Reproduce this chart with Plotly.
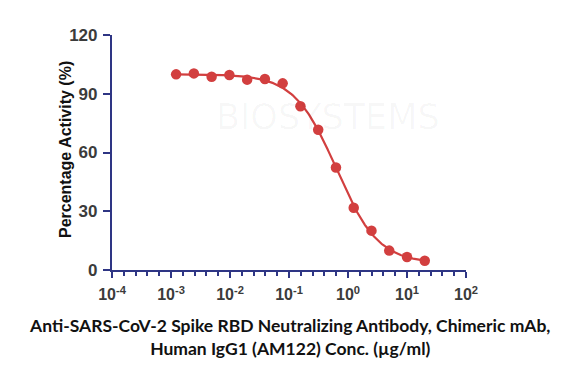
import numpy as np
import plotly.graph_objects as go

# ---- data ----
conc = [20 / 2 ** k for k in range(14, -1, -1)]  # 2-fold dilution series, µg/ml
activity = [99.9, 100.4, 98.7, 99.6, 97.2, 97.5, 95.3, 83.6, 71.6, 52.3, 31.8, 20.1, 9.9, 6.6, 4.7]
y_ticks = [0, 30, 60, 90, 120]
x_decades = [-4, -3, -2, -1, 0, 1, 2]
x_tick_labels = ["10<sup>-4</sup>", "10<sup>-3</sup>", "10<sup>-2</sup>", "10<sup>-1</sup>",
                 "10<sup>0</sup>", "10<sup>1</sup>", "10<sup>2</sup>"]
x_title = "Anti-SARS-CoV-2 Spike RBD Neutralizing Antibody, Chimeric mAb,<br>Human IgG1 (AM122) Conc. (µg/ml)"
y_title = "Percentage Activity (%)"

# ---- 4PL fit of the read values (for the fitted curve) ----
lx = np.log10(np.array(conc))
yv = np.array(activity)

def model(p, x):
    b, t, c, h = p
    return b + (t - b) / (1 + 10 ** ((x - c) * h))

p = np.array([3.0, 100.0, np.log10(0.65), 1.3])
lam = 1e-3
for _ in range(200):
    r = yv - model(p, lx)
    J = np.zeros((len(lx), 4))
    for j in range(4):
        dp = np.zeros(4); dp[j] = 1e-6
        J[:, j] = (model(p + dp, lx) - model(p - dp, lx)) / 2e-6
    A = J.T @ J
    step = np.linalg.solve(A + lam * np.diag(np.diag(A)), J.T @ r)
    pn = p + step
    if np.sum((yv - model(pn, lx)) ** 2) < np.sum(r ** 2):
        p = pn; lam *= 0.5
    else:
        lam *= 4
fx = np.linspace(lx.min(), lx.max(), 300)
fy = model(p, fx)

# minor ticks: 4 evenly spaced (in log space) between decades, as in the reference
minor_vals = [10 ** (d + k / 5) for d in x_decades[:-1] for k in range(1, 5)]

red = "#d23f3f"
navy = "#2e3584"

L, R, T, B = 112, 113, 35, 100
W, H = 579, 370
plot_w = W - L - R
plot_h = H - T - B

fig = go.Figure()
fig.add_trace(go.Scatter(x=10 ** fx, y=fy, mode="lines",
                         line=dict(color=red, width=2.2), hoverinfo="skip", showlegend=False))
fig.add_trace(go.Scatter(x=conc, y=activity, mode="markers",
                         marker=dict(color=red, size=10.5, line=dict(width=0)), showlegend=False))

xtickfont = dict(family="Liberation Sans, Arial", size=16, color="#3b3b3b", weight="bold")
ytickfont = dict(family="Liberation Sans, Arial", size=17, color="#3b3b3b", weight="bold")

fig.update_layout(
    width=W, height=H,
    margin=dict(l=L, r=R, t=T, b=B, autoexpand=False),
    paper_bgcolor="white", plot_bgcolor="white",
    xaxis=dict(type="log", range=[-4, 2], tickvals=[10 ** d for d in x_decades],
               ticktext=x_tick_labels, automargin=False,
               showline=True, linecolor=navy, linewidth=2.2,
               ticks="outside", ticklen=6, tickwidth=2.2, tickcolor=navy,
               minor=dict(tickvals=minor_vals, ticks="outside", ticklen=3.5, tickwidth=2, tickcolor=navy,
                          showgrid=False),
               showgrid=False, zeroline=False, tickfont=xtickfont, ticklabelstandoff=3),
    yaxis=dict(range=[0, 120], tickvals=y_ticks, showline=True, linecolor=navy, linewidth=2.2,
               automargin=False,
               ticks="outside", ticklen=7, tickwidth=2.2, tickcolor=navy,
               showgrid=False, zeroline=False, tickfont=ytickfont, ticklabelstandoff=2),
    annotations=[
        dict(text="BIOSYSTEMS", x=(328 - L) / plot_w, y=(270 - 117) / plot_h, xref="paper", yref="paper",
             showarrow=False, xanchor="center", yanchor="middle",
             font=dict(family="DejaVu Sans", size=35, color="rgba(0,0,0,0.03)")),
        dict(text=y_title, textangle=-90, x=(65 - L) / plot_w, y=(270 - 150) / plot_h,
             xref="paper", yref="paper", xanchor="center", yanchor="middle",
             showarrow=False, font=dict(family="Liberation Sans, Arial", size=16, color="#111111", weight="bold")),
        dict(text=x_title, x=(289 - L) / plot_w, y=(270 - 337) / plot_h, xref="paper", yref="paper",
             xanchor="center", yanchor="middle", showarrow=False,
             font=dict(family="Lato, Open Sans", size=17.5, color="#111111", weight="bold")),
    ],
)

fig.write_html("out.html", config={"displayModeBar": False},
               post_script="document.body.style.margin='0';")
